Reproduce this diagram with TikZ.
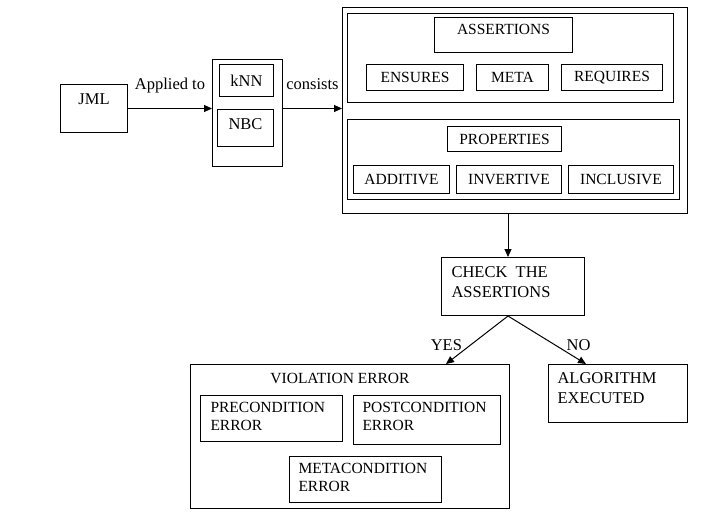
\documentclass[tikz,border=0pt]{standalone}
\usepackage{fontspec}
\setmainfont{Liberation Serif}
\usetikzlibrary{positioning,arrows.meta}

\begin{document}
\begin{tikzpicture}[x=1pt,y=-1pt,line width=1pt,>={Triangle[length=8pt,width=7pt]},
    every node/.style={font=\fontsize{16.5}{20}\selectfont},
    box/.style={draw,anchor=north west,inner sep=0pt},
    smalltext/.style={font=\fontsize{15.5}{18}\selectfont}]
  \useasboundingbox (0,0) rectangle (728,522);
  % left part
  \node[box,minimum width=67pt,text height=20pt,text depth=28pt] (jml) at (60,84) {JML};
  \node[box,minimum width=70pt,minimum height=107pt] (mid) at (212,59) {};
  \node[box,minimum width=54pt,minimum height=32pt] (knn) at (219,64) {kNN};
  \node[box,minimum width=56pt,text height=19.5pt,text depth=17.5pt] (nbc) at (217,109) {NBC};
  % assertions and properties
  \node[box,minimum width=345pt,minimum height=206pt] (big) at (342,7) {};
  \node[box,minimum width=326pt,minimum height=89pt] (agroup) at (347,13) {};
  \node[box,smalltext,minimum width=138pt,text height=17pt,text depth=18pt] (assert) at (434,17) {ASSERTIONS};
  \node[box,smalltext,minimum width=97pt,minimum height=26pt] (ensures) at (366,64) {ENSURES};
  \node[box,smalltext,minimum width=72pt,minimum height=26pt] (meta) at (476,64) {META};
  \node[box,smalltext,minimum width=101pt,minimum height=26pt] (requires) at (561,64) {REQUIRES};
  \node[box,minimum width=332pt,minimum height=80pt] (pgroup) at (347,119) {};
  \node[box,smalltext,minimum width=114pt,minimum height=25pt] (props) at (447,126) {PROPERTIES};
  \node[box,smalltext,minimum width=96pt,minimum height=28pt] (additive) at (353,165) {ADDITIVE};
  \node[box,smalltext,minimum width=105pt,minimum height=28pt] (invertive) at (456,165) {INVERTIVE};
  \node[box,smalltext,minimum width=105pt,minimum height=28pt] (inclusive) at (568,165) {INCLUSIVE};
  % check and results
  \node[box,text width=123pt,inner xsep=10pt,align=left,text height=19.6pt,text depth=38.4pt] (check) at (441,257) {CHECK\hspace{0.5em}THE\\ASSERTIONS};
  \node[box,minimum width=319pt,minimum height=144pt] (viol) at (190,364) {};
  \node[smalltext,below=5pt of viol.north,xshift=-10pt] (violtitle) {VIOLATION ERROR};
  \node[box,smalltext,text width=122pt,inner xsep=10pt,align=left,text height=17pt,text depth=29pt] (precond) at (200,395) {PRECONDITION\\ERROR};
  \node[box,smalltext,text width=129pt,inner xsep=9pt,align=left,text height=17pt,text depth=32pt] (postcond) at (353,395) {POSTCONDITION\\ERROR};
  \node[box,smalltext,text width=134pt,inner xsep=9pt,align=left,text height=17pt,text depth=29pt] (metacond) at (289,456) {METACONDITION\\ERROR};
  \node[box,text width=121pt,inner xsep=9pt,align=left,text height=18.6pt,text depth=39.4pt] (algo) at (548,364) {ALGORITHM\\EXECUTED};
  % connectors
  \draw[->] (jml.east) -- node[midway,anchor=base,yshift=19pt] {Applied to} (jml.east -| mid.west);
  \draw[->] (jml.east -| mid.east) -- node[midway,anchor=base,yshift=19pt] {consists} (jml.east -| big.west);
  \draw[->] ([xshift=-5pt]check.north |- big.south) -- ([xshift=-5pt]check.north);
  \draw[->] ([xshift=-5pt]check.south) -- node[pos=0.6,left,xshift=-5pt] {YES} ([xshift=-64pt]viol.north east);
  \draw[->] ([xshift=-5pt]check.south) -- node[pos=0.6,right,xshift=8pt] {NO} ([xshift=38pt]algo.north west);
\end{tikzpicture}
\end{document}
